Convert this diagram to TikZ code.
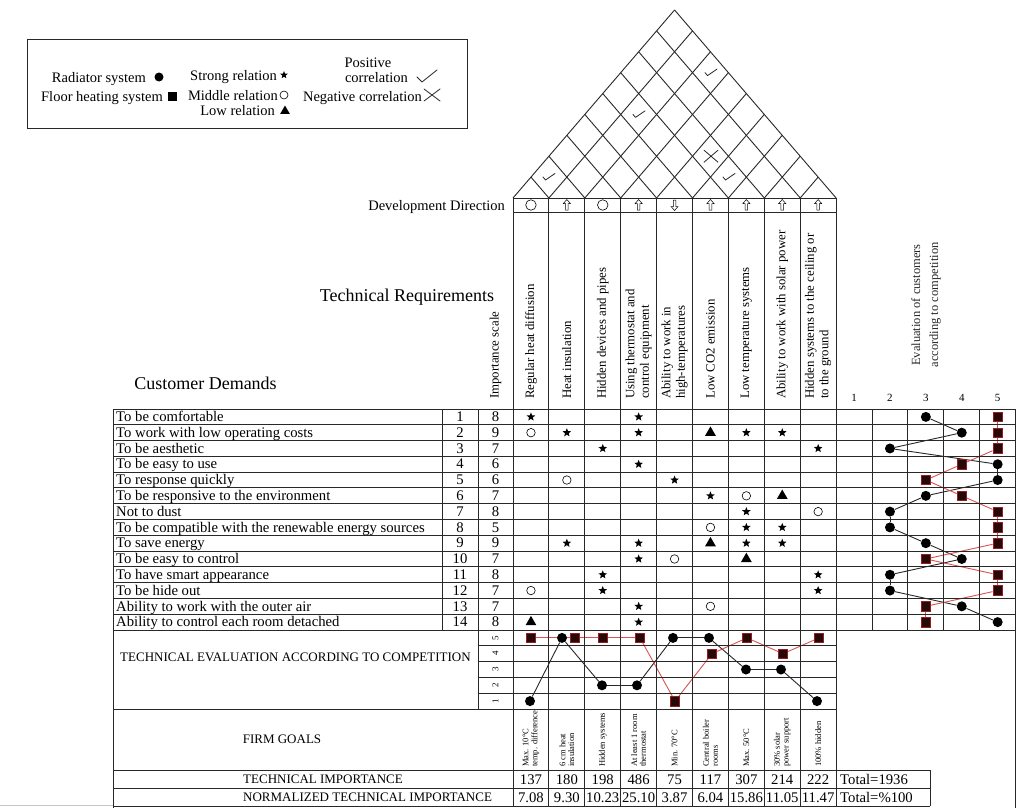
\documentclass[tikz,border=0pt]{standalone}
\usepackage{fontspec}
\setmainfont{Liberation Serif}
\usetikzlibrary{shapes.geometric}
\definecolor{redln}{RGB}{218,82,82}
\definecolor{sqfill}{RGB}{40,8,8}
\definecolor{sqdraw}{RGB}{150,30,30}
\definecolor{lnclr}{RGB}{40,40,40}
\pgfdeclarelayer{bg}
\pgfsetlayers{bg,main}
\tikzset{
  gl/.style={line width=0.9pt, draw=lnclr},
  t14/.style={font=\fontsize{14.7}{16}\selectfont, inner sep=0pt},
  t145/.style={font=\fontsize{14.5}{16}\selectfont, inner sep=0pt},
  hdr/.style={font=\fontsize{12.8}{14.5}\selectfont, inner sep=0pt, rotate=90, anchor=west, align=left},
  fg/.style={font=\fontsize{8.5}{8.8}\selectfont, inner sep=0pt, rotate=90, anchor=west, align=left},
  caps/.style={font=\fontsize{13}{14}\selectfont, inner sep=0pt},
  big/.style={font=\fontsize{18}{20}\selectfont, inner sep=0pt},
  rels/.style={star, star points=5, star point ratio=2.3, fill=black, inner sep=0pt, minimum size=9pt},
  relc/.style={circle, draw=black, line width=0.6pt, inner sep=0pt, minimum size=8.5pt},
  relt/.style={regular polygon, regular polygon sides=3, fill=black, inner sep=0pt, minimum size=12.5pt},
  rad/.style={circle, fill=black, inner sep=0pt, minimum size=10pt},
  flo/.style={rectangle, fill=sqfill, draw=sqdraw, line width=0.7pt, inner sep=0pt, minimum size=9.5pt},
  legsq/.style={rectangle, fill=black, inner sep=0pt, minimum size=9pt},
  ddc/.style={circle, draw=black, line width=0.6pt, inner sep=0pt, minimum size=10.5pt},
  radln/.style={line width=0.9pt, draw=lnclr},
  floln/.style={line width=0.9pt, draw=redln},
  mk/.style={line width=0.8pt, draw=lnclr, line cap=round, line join=round},
  uparr/.pic={\draw[line width=0.5pt] (0,-5.5) -- (3.5,-1.5) -- (1.3,-1.5) -- (1.3,5) -- (-1.3,5) -- (-1.3,-1.5) -- (-3.5,-1.5) -- cycle;},
  dnarr/.pic={\draw[line width=0.5pt] (0,5.5) -- (3.5,1.5) -- (1.3,1.5) -- (1.3,-5) -- (-1.3,-5) -- (-1.3,1.5) -- (-3.5,1.5) -- cycle;},
  chk/.pic={\draw[mk] (-6,0) -- (-3.5,3) -- (6,-3.5);},
  crs/.pic={\draw[mk] (-7,-6) -- (7,6) (-7,6) -- (7,-6);}
}
\begin{document}
\begin{tikzpicture}[x=1pt,y=-1pt]
\begin{pgfonlayer}{bg}
\fill[white] (0,0) rectangle (1019,808);
\end{pgfonlayer}
\useasboundingbox (0,0) rectangle (1019,808);
\def\W{35.9}
\def\H{15.786}
\def\S{1.1637}

% ---------- legend ----------
\draw[gl] (27,39) rectangle (467,128);
\node[t145, anchor=base east] (lg1) at (146,82) {Radiator system};
\node[rad, minimum size=9pt] (lgs1) at (159,77) {};
\node[t145, anchor=base east] (lg2) at (163,101) {Floor heating system};
\node[legsq] (lgs2) at (172,96) {};
\node[t145, anchor=base east] (lg3) at (277,80) {Strong relation};
\node[rels, minimum size=8pt] (lgs3) at (284,75) {};
\node[t145, anchor=base east] (lg4) at (278,100) {Middle relation};
\node[relc, minimum size=8pt] (lgs4) at (284,95) {};
\node[t145, anchor=base east] (lg5) at (275,115) {Low relation};
\node[relt, minimum size=11pt] (lgs5) at (285,111) {};
\node[t145, anchor=base] (lg6) at (368,67) {Positive};
\node[t145, anchor=base east] (lg7) at (408,82) {correlation};
\draw[mk] (417,77) -- (422,82) -- (437,70);
\node[t145, anchor=base east] (lg8) at (422,101) {Negative correlation};
\draw[mk] (424,89) -- (440,101) (424,101) -- (440,89);

% ---------- roof ----------
\foreach \i in {0,...,9} {
  \pgfmathsetmacro\xi{513+\W*\i}
  \pgfmathsetmacro\xr{(836.1+\xi)/2}
  \pgfmathsetmacro\yr{198-\S*(836.1-\xi)/2}
  \pgfmathsetmacro\xl{(513+\xi)/2}
  \pgfmathsetmacro\yl{198-\S*(\xi-513)/2}
  \draw[gl, line join=miter] (\xi,198) -- (\xr,\yr);
  \draw[gl, line join=miter] (\xi,198) -- (\xl,\yl);
}
\pic at (549,177) {chk};
\pic at (639,114.4) {chk};
\pic at (711,72.6) {chk};
\pic at (711,156.2) {crs};
\pic at (729,177) {chk};

% ---------- development direction ----------
\draw[gl] (513,198) -- (836.1,198);
\draw[gl] (513,212) -- (836.1,212);
\node[t145, anchor=base east] (ddt) at (505,210) {Development Direction};
\node[ddc] (dd1) at ({513+0.5*\W},205) {};
\node[ddc] (dd3) at ({513+2.5*\W},205) {};
\foreach \c in {2,4,6,7,8,9} {\pic at ({513+(\c-0.5)*\W},205) {uparr};}
\pic at ({513+4.5*\W},205) {dnarr};

% ---------- headings ----------
\node[big] (tr) at (407,297) {Technical Requirements};
\node[big] (cdm) at (205.5,383) {Customer Demands};
\node[hdr] (himp) at (495.5,399) {Importance scale};
\node[hdr] (h1) at ({513+0.5*\W},399) {Regular heat diffusion};
\node[hdr] (h2) at ({513+1.5*\W},399) {Heat insulation};
\node[hdr] (h3) at ({513+2.5*\W},399) {Hidden devices and pipes};
\node[hdr] (h4) at ({513+3.5*\W},399) {Using thermostat and\\control equipment};
\node[hdr] (h5) at ({513+4.5*\W},399) {Ability to work in\\high-temperatures};
\node[hdr] (h6) at ({513+5.5*\W},399) {Low CO2 emission};
\node[hdr] (h7) at ({513+6.5*\W},399) {Low temperature systems};
\node[hdr] (h8) at ({513+7.5*\W},399) {Ability to work with solar power};
\node[hdr] (h9) at ({513+8.5*\W},399) {Hidden systems to the ceiling or\\to the ground};
\node[font=\fontsize{12.5}{18}\selectfont, rotate=90, align=center, inner sep=0pt, text=lnclr] (evh) at (926,305) {Evaluation of customers\\according to competition};
\foreach \k in {1,...,5} {\node[font=\fontsize{11}{11}\selectfont, inner sep=0pt] (en\k) at ({836.1+(\k-0.5)*\W},398) {\k};}

% ---------- grid lines ----------
\foreach \k in {0,...,9} {\draw[gl] ({513+\k*\W},198) -- ({513+\k*\W},806);}
\foreach \r in {0,...,14} {\draw[gl] (113,{409+\r*\H}) -- (1015.6,{409+\r*\H});}
\draw[gl] (113,409) -- (113,808);
\draw[gl] (442,409) -- (442,630);
\draw[gl] (478,409) -- (478,709);
\foreach \k in {1,...,4} {\draw[gl] ({836.1+\k*\W},409) -- ({836.1+\k*\W},630);}
\draw[gl] (1015.6,409) -- (1015.6,808);
\foreach \k in {1,...,4} {\draw[gl] (478,{630+\k*15.8}) -- (836.1,{630+\k*15.8});}
\draw[gl] (113,709) -- (836.1,709);
\draw[gl] (113,770) -- (930,770);
\draw[gl] (113,788) -- (930,788);
\draw[gl] (113,806) -- (930,806);
\draw[gl] (930,770) -- (930,806);
\draw[gray!45, line width=1pt] (0,805) -- (113,805);

% ---------- customer demands ----------
\foreach \r/\txt/\imp in {1/To be comfortable/8, 2/To work with low operating costs/9, 3/To be aesthetic/7, 4/To be easy to use/6, 5/To response quickly/6, 6/To be responsive to the environment/7, 7/Not to dust/8, 8/To be compatible with the renewable energy sources/5, 9/To save energy/9, 10/To be easy to control/7, 11/To have smart appearance/8, 12/To be hide out/7, 13/Ability to work with the outer air/7, 14/Ability to control each room detached/8} {
  \node[t14, anchor=base west] (cd\r) at (116,{409+(\r-0.5)*\H+4.7}) {\txt};
  \node[t14, anchor=base] (cn\r) at (460,{409+(\r-0.5)*\H+4.7}) {\r};
  \node[t14, anchor=base] (ci\r) at (495.5,{409+(\r-0.5)*\H+4.7}) {\imp};
}

% ---------- relationship matrix ----------
\foreach \r/\c/\t in {1/1/s, 1/4/s, 2/1/c, 2/2/s, 2/4/s, 2/6/t, 2/7/s, 2/8/s, 3/3/s, 3/9/s, 4/4/s, 5/2/c, 5/5/s, 6/6/s, 6/7/c, 6/8/t, 7/7/s, 7/9/c, 8/6/c, 8/7/s, 8/8/s, 9/2/s, 9/4/s, 9/6/t, 9/7/s, 9/8/s, 10/4/s, 10/5/c, 10/7/t, 11/3/s, 11/9/s, 12/1/c, 12/3/s, 12/9/s, 13/4/s, 13/6/c, 14/1/t, 14/4/s} {
  \node[rel\t] (m\r-\c) at ({513+(\c-0.5)*\W},{409+(\r-0.5)*\H}) {};
}

% ---------- customer evaluation ----------
\foreach \r/\a/\b in {1/3/5, 2/4/5, 3/2/5, 4/5/4, 5/5/3, 6/3/4, 7/2/5, 8/2/5, 9/3/5, 10/4/3, 11/2/5, 12/2/5, 13/4/3, 14/5/3} {
  \node[rad] (ra\r) at ({836.1+(\a-0.5)*\W},{409+(\r-0.5)*\H}) {};
  \node[flo] (fl\r) at ({836.1+(\b-0.5)*\W},{409+(\r-0.5)*\H}) {};
}
\begin{pgfonlayer}{bg}
\foreach \r [remember=\r as \p (initially 1)] in {2,...,14} {
  \draw[radln] (ra\p) -- (ra\r);
  \draw[floln] (fl\p) -- (fl\r);
}
\end{pgfonlayer}

% ---------- technical evaluation ----------
\node[caps] (tev) at (295.5,657) {TECHNICAL EVALUATION ACCORDING TO COMPETITION};
\foreach \k in {1,...,5} {\node[font=\fontsize{9}{9}\selectfont, rotate=90, inner sep=0pt] (tl\k) at (495.5,{709-(\k-0.5)*15.8}) {\k};}
\foreach \c/\xa/\a/\xb/\b in {1/530/1/531/5, 2/562/5/575/5, 3/602/2/603/5, 4/637/2/640/5, 5/673/5/675/1, 6/709/5/712/4, 7/746/3/747/5, 8/781/3/783/4, 9/817/1/819/5} {
  \node[rad] (ta\c) at (\xa,{709-(\a-0.5)*15.8}) {};
  \node[flo] (tf\c) at (\xb,{709-(\b-0.5)*15.8}) {};
}
\begin{pgfonlayer}{bg}
\foreach \c [remember=\c as \p (initially 1)] in {2,...,9} {
  \draw[radln] (ta\p) -- (ta\c);
  \draw[floln] (tf\p) -- (tf\c);
}
\end{pgfonlayer}

% ---------- firm goals ----------
\node[caps] (fgl) at (282,739) {FIRM GOALS};
\node[fg] (fg1) at ({513+0.5*\W},767) {Max. 10°C\\temp. difference};
\node[fg] (fg2) at ({513+1.5*\W},767) {6 cm heat\\insulation};
\node[fg] (fg3) at ({513+2.5*\W},767) {Hidden systems};
\node[fg] (fg4) at ({513+3.5*\W},767) {At least 1 room\\thermostat};
\node[fg] (fg5) at ({513+4.5*\W},767) {Min. 70°C};
\node[fg] (fg6) at ({513+5.5*\W},767) {Central boiler\\rooms};
\node[fg] (fg7) at ({513+6.5*\W},767) {Max. 50°C};
\node[fg] (fg8) at ({513+7.5*\W},767) {30\% solar\\power support};
\node[fg] (fg9) at ({513+8.5*\W},767) {100\% hidden};

% ---------- importance rows ----------
\node[caps, anchor=base west] (tim) at (243,783.5) {TECHNICAL IMPORTANCE};
\node[caps, anchor=base west] (nti) at (243,801.5) {NORMALIZED TECHNICAL IMPORTANCE};
\foreach \c/\v/\n in {1/137/7.08, 2/180/9.30, 3/198/10.23, 4/486/25.10, 5/75/3.87, 6/117/6.04, 7/307/15.86, 8/214/11.05, 9/222/11.47} {
  \node[t14, anchor=base] (tv\c) at ({513+(\c-0.5)*\W},784) {\v};
  \node[t14, anchor=base] (nv\c) at ({513+(\c-0.5)*\W},802) {\n};
}
\node[t14, anchor=base west] (tot1) at (840,784) {Total=1936};
\node[t14, anchor=base west] (tot2) at (840,802) {Total=\%100};
\end{tikzpicture}
\end{document}
